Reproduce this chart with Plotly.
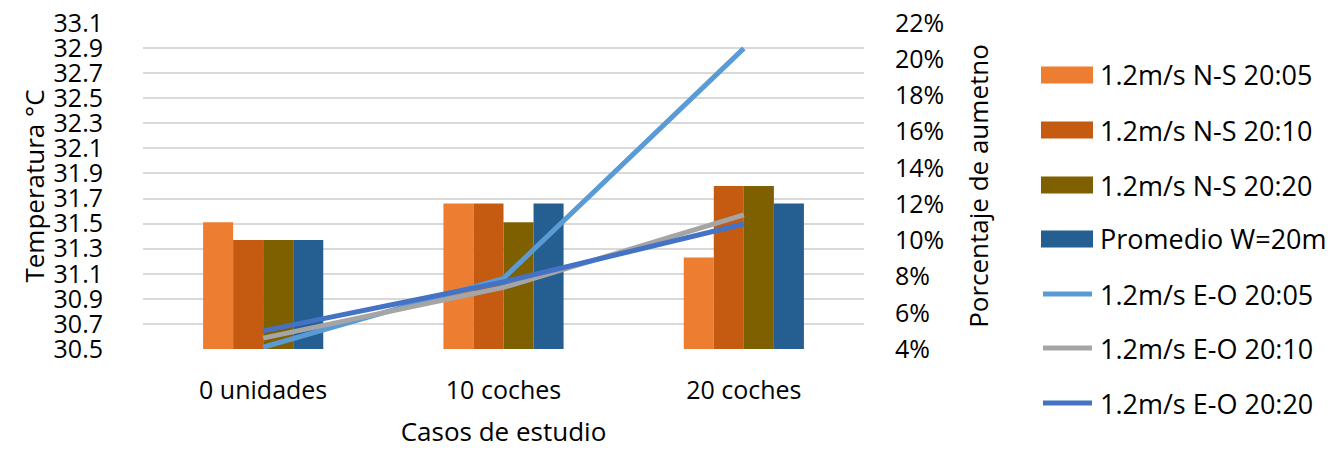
import plotly.graph_objects as go

# Study cases on the category axis
categories = ["0 unidades", "10 coches", "20 coches"]

# Temperatures (°C) for the N-S runs and the average, drawn as bars
ns_2005 = [31.51, 31.66, 31.23]
ns_2010 = [31.37, 31.66, 31.80]
ns_2020 = [31.37, 31.51, 31.80]
promedio_w20 = [31.37, 31.66, 31.66]

# Percentage increase for the E-O runs, drawn as lines on the right axis
eo_2005 = [0.041, 0.079, 0.206]
eo_2010 = [0.046, 0.074, 0.114]
eo_2020 = [0.050, 0.077, 0.109]

bar_names = ["1.2m/s N-S 20:05", "1.2m/s N-S 20:10", "1.2m/s N-S 20:20", "Promedio W=20m"]
bar_values = [ns_2005, ns_2010, ns_2020, promedio_w20]
bar_colors = ["#ED7D31", "#C55A11", "#7F6000", "#255E91"]

line_names = ["1.2m/s E-O 20:05", "1.2m/s E-O 20:10", "1.2m/s E-O 20:20"]
line_values = [eo_2005, eo_2010, eo_2020]
line_colors = ["#5B9BD5", "#A5A5A5", "#4472C4"]

FONT = "Open Sans"
TICK_FS = 25
TITLE_FS = 26
LEGEND_FS = 27

# Plot area in pixels
W, H = 1340, 449
L, R, T, B = 143, 864, 23, 349

fig = go.Figure()
for name, vals, col in zip(bar_names, bar_values, bar_colors):
    fig.add_trace(go.Bar(x=categories, y=vals, name=name, marker_color=col,
                         marker_line_width=0, yaxis="y", showlegend=False))
for name, vals, col in zip(line_names, line_values, line_colors):
    fig.add_trace(go.Scatter(x=categories, y=vals, name=name, mode="lines",
                             line=dict(color=col, width=5), yaxis="y2",
                             showlegend=False))

# Legend built from shapes and labels beside the plot
def px_x(px):
    return (px - L) / (R - L)

def px_y(py):
    return (B - py) / (B - T)

legend_centers = [75, 130, 185, 239, 294, 348, 403]
shapes = []
annotations = []
names = bar_names + line_names
colors = bar_colors + line_colors
for i, (name, col, cy) in enumerate(zip(names, colors, legend_centers)):
    if i < len(bar_names):
        shapes.append(dict(type="rect", xref="paper", yref="paper",
                           x0=px_x(1041), x1=px_x(1093),
                           y0=px_y(cy + 8.5), y1=px_y(cy - 8.5),
                           fillcolor=col, line_width=0))
    else:
        shapes.append(dict(type="line", xref="paper", yref="paper",
                           x0=px_x(1043), x1=px_x(1092),
                           y0=px_y(cy), y1=px_y(cy),
                           line=dict(color=col, width=5)))
    annotations.append(dict(text=name, xref="paper", yref="paper",
                            x=px_x(1098), y=px_y(cy), xanchor="left",
                            yanchor="middle", showarrow=False,
                            font=dict(family=FONT, size=LEGEND_FS, color="#000000")))

fig.update_layout(
    width=W, height=H,
    margin=dict(l=L, r=W - R, t=T, b=H - B, pad=0, autoexpand=False),
    paper_bgcolor="white", plot_bgcolor="white",
    barmode="group", bargap=0.5, bargroupgap=0,
    font=dict(family=FONT, size=TICK_FS, color="#000000"),
    xaxis=dict(
        title=dict(text="Casos de estudio", standoff=18,
                   font=dict(family=FONT, size=TITLE_FS)),
        automargin=False,
        showgrid=False, showline=False, ticks="",
        ticklabelstandoff=24, tickfont=dict(family=FONT, size=TICK_FS),
    ),
    yaxis=dict(
        title=dict(text="Temperatura °C", standoff=1,
                   font=dict(family=FONT, size=TITLE_FS)),
        automargin=False,
        range=[30.5, 33.1], tick0=30.5, dtick=0.2, tickformat=".1f",
        showgrid=True, gridcolor="#D9D9D9", gridwidth=1.5,
        zeroline=False, showline=False, ticks="",
        ticklabelstandoff=39, tickfont=dict(family=FONT, size=TICK_FS),
    ),
    yaxis2=dict(
        title=dict(text="Porcentaje de aumetno", standoff=26,
                   font=dict(family=FONT, size=TITLE_FS)),
        automargin=False,
        overlaying="y", side="right",
        range=[0.04, 0.22], tick0=0.04, dtick=0.02, tickformat=".0%",
        showgrid=False, zeroline=False, showline=False, ticks="",
        ticklabelstandoff=30, tickfont=dict(family=FONT, size=TICK_FS),
    ),
    shapes=shapes,
    annotations=annotations,
)

fig.write_html("out.html")
